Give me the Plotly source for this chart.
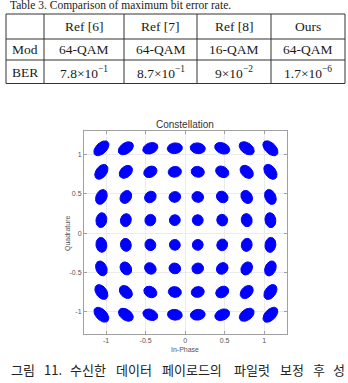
import numpy as np
import plotly.graph_objects as go

# ---------------- data ----------------
table_header = ["", "Ref [6]", "Ref [7]", "Ref [8]", "Ours"]
row_mod = ["Mod", "64-QAM", "64-QAM", "16-QAM", "64-QAM"]
row_ber = ["BER", "7.8×10<sup>−1</sup>", "8.7×10<sup>−1</sup>", "9×10<sup>−2</sup>", "1.7×10<sup>−6</sup>"]

# constellation cluster centres (I and Q levels)
i_levels = [-1.06, -0.75, -0.44, -0.13, 0.16, 0.47, 0.78, 1.08]
q_levels = [1.08, 0.78, 0.46, 0.165, -0.15, -0.45, -0.75, -1.04]
radial_spread = 0.068      # cluster half-width along radius
phase_spread = 0.062       # rad, tangential smearing (phase noise)

x_ticks = [-1, -0.5, 0, 0.5, 1]
y_ticks = [-1, -0.5, 0, 0.5, 1]

title_text = "Constellation"
x_label = "In-Phase"
y_label = "Quadrature"
top_caption = "Table 3. Comparison of maximum bit error rate."
caption_words = ["그림", "11.", "수신한", "데이터", "페이로드의", "파일럿", "보정", "후", "성"]

# ---------------- layout helpers ----------------
W, H = 348, 383
def px(x):
    return x / W
def py(y):
    return 1 - y / H

# ---------------- cluster outlines ----------------
xs, ys = [], []
t = np.linspace(0, 2 * np.pi, 28)
for q in q_levels:
    for i in i_levels:
        r = np.hypot(i, q)
        ang = np.arctan2(q, i) + np.pi / 2
        a = np.hypot(radial_spread, r * phase_spread)  # tangential semi-axis
        b = radial_spread
        ex = a * np.cos(t)
        ey = b * np.sin(t)
        X = i + ex * np.cos(ang) - ey * np.sin(ang)
        Y = q + ex * np.sin(ang) + ey * np.cos(ang)
        xs += list(X) + [None]
        ys += list(Y) + [None]

fig = go.Figure()
fig.add_trace(go.Scatter(x=xs, y=ys, mode="lines", fill="toself",
                         fillcolor="#0000ff", line=dict(color="#0000ff", width=1),
                         hoverinfo="skip", showlegend=False))

# ---------------- axes ----------------
x0, x1 = 84, 287
y0, y1 = 131, 334
axis_common = dict(showgrid=True, gridcolor="#ebebeb", gridwidth=1, zeroline=False,
                   showline=True, linecolor="#a0a0a0", linewidth=1, mirror="ticks",
                   ticks="inside", ticklen=3, tickcolor="#a0a0a0",
                   tickfont=dict(family="Liberation Sans, Arial", size=7, color="#555555"))
fig.update_layout(
    width=W, height=H, margin=dict(l=0, r=0, t=0, b=0),
    paper_bgcolor="white", plot_bgcolor="white",
    xaxis=dict(domain=[px(x0), px(x1)], range=[-1.28, 1.29], tickvals=x_ticks,
               ticktext=[str(v) for v in x_ticks], **axis_common),
    yaxis=dict(domain=[py(y1), py(y0)], range=[-1.285, 1.30], tickvals=y_ticks,
               ticktext=[str(v) for v in y_ticks], **axis_common),
)

ann = []
ann.append(dict(text=title_text, x=px(185), y=py(124), xref="paper", yref="paper",
                showarrow=False, xanchor="center", yanchor="middle",
                font=dict(family="Liberation Sans, Arial", size=10, color="#333333")))
ann.append(dict(text=x_label, x=px(185), y=py(349), xref="paper", yref="paper",
                showarrow=False, xanchor="center", yanchor="middle",
                font=dict(family="Liberation Sans, Arial", size=7, color="#555555")))
ann.append(dict(text=y_label, x=px(68), y=py(233), xref="paper", yref="paper",
                showarrow=False, xanchor="center", yanchor="middle", textangle=-90,
                font=dict(family="Liberation Sans, Arial", size=7, color="#555555")))

# ---------------- table ----------------
shapes = []
tl, tr = 6, 345
row_lines = [14, 39, 60, 83.5]
col_lines = [6, 44, 124, 197, 271, 345]
for yy in row_lines:
    shapes.append(dict(type="line", xref="paper", yref="paper", x0=px(tl), x1=px(tr),
                       y0=py(yy), y1=py(yy), line=dict(color="#333333", width=1)))
for xx in col_lines:
    shapes.append(dict(type="line", xref="paper", yref="paper", x0=px(xx), x1=px(xx),
                       y0=py(row_lines[0]), y1=py(row_lines[-1]), line=dict(color="#333333", width=1)))

col_centres = [(col_lines[k] + col_lines[k + 1]) / 2 for k in range(5)]
row_centres = [26.5, 49.5, 72]
for r_i, row in enumerate([table_header, row_mod, row_ber]):
    for c_i, txt in enumerate(row):
        if not txt:
            continue
        ann.append(dict(text=txt, x=px(col_centres[c_i]), y=py(row_centres[r_i]),
                        xref="paper", yref="paper", showarrow=False,
                        xanchor="center", yanchor="middle",
                        font=dict(family="Liberation Serif, Times New Roman", size=13.5, color="#1a1a1a")))

ann.append(dict(text=top_caption, x=px(8), y=py(5.5), xref="paper", yref="paper",
                showarrow=False, xanchor="left", yanchor="middle",
                font=dict(family="Liberation Serif, Times New Roman", size=11.5, color="#1a1a1a")))

# ---------------- Korean caption (justified line) ----------------
fsz = 13
def word_w(w):
    return sum(0.58 * fsz if ch.isdigit() else (0.28 * fsz if ch == "." else fsz) for ch in w)
widths = [word_w(w) for w in caption_words]
left, right = 9, 344
gap = (right - left - sum(widths)) / (len(caption_words) - 1)
cx = left
for w, ww in zip(caption_words, widths):
    ann.append(dict(text=w, x=px(cx), y=py(369), xref="paper", yref="paper",
                    showarrow=False, xanchor="left", yanchor="middle",
                    font=dict(family="Noto Sans CJK KR", size=fsz, color="#222222")))
    cx += ww + gap

fig.update_layout(annotations=ann, shapes=shapes)
fig.write_html("out.html")
